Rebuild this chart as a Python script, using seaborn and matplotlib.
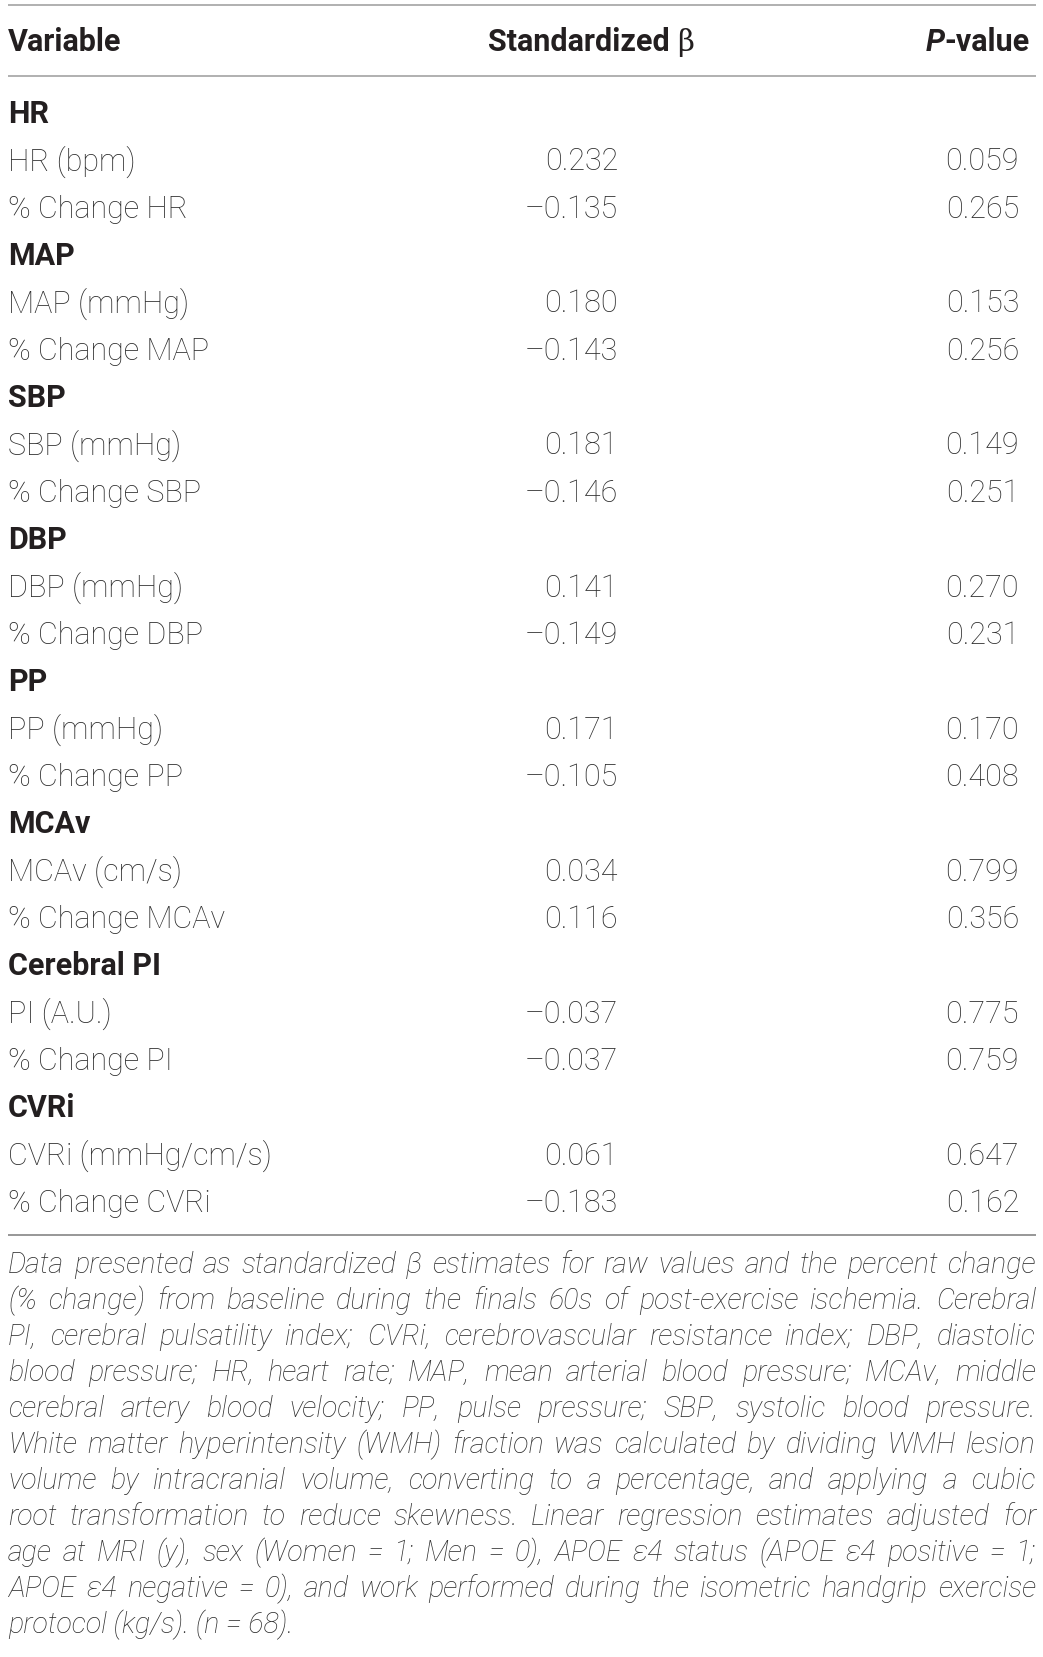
import matplotlib.pyplot as plt
import seaborn as sns

# table content
groups = ["HR", "MAP", "SBP", "DBP", "PP", "MCAv", "Cerebral PI", "CVRi"]
raw_labels = ["HR (bpm)", "MAP (mmHg)", "SBP (mmHg)", "DBP (mmHg)", "PP (mmHg)",
              "MCAv (cm/s)", "PI (A.U.)", "CVRi (mmHg/cm/s)"]
change_labels = ["% Change HR", "% Change MAP", "% Change SBP", "% Change DBP",
                 "% Change PP", "% Change MCAv", "% Change PI", "% Change CVRi"]
beta_raw = [0.232, 0.180, 0.181, 0.141, 0.171, 0.034, -0.037, 0.061]
beta_change = [-0.135, -0.143, -0.146, -0.149, -0.105, 0.116, -0.037, -0.183]
p_raw = [0.059, 0.153, 0.149, 0.270, 0.170, 0.799, 0.775, 0.647]
p_change = [0.265, 0.256, 0.251, 0.231, 0.408, 0.356, 0.759, 0.162]

footnote_lines = [
    "Data presented as standardized \u03b2 estimates for raw values and the percent change",
    "(% change) from baseline during the finals 60s of post-exercise ischemia. Cerebral",
    "PI, cerebral pulsatility index; CVRi, cerebrovascular resistance index; DBP, diastolic",
    "blood pressure; HR, heart rate; MAP, mean arterial blood pressure; MCAv, middle",
    "cerebral artery blood velocity; PP, pulse pressure; SBP, systolic blood pressure.",
    "White matter hyperintensity (WMH) fraction was calculated by dividing WMH lesion",
    "volume by intracranial volume, converting to a percentage, and applying a cubic",
    "root transformation to reduce skewness. Linear regression estimates adjusted for",
    "age at MRI (y), sex (Women = 1; Men = 0), APOE \u03b54 status (APOE \u03b54 positive = 1;",
    "APOE \u03b54 negative = 0), and work performed during the isometric handgrip exercise",
    "protocol (kg/s). (n = 68).",
]

sns.set_theme(style="white")
plt.rcParams["font.family"] = ["Roboto", "DejaVu Sans"]

fam = ["Roboto", "DejaVu Sans"]
dark = "#231f20"
body = "#2e2e2e"
fs = 22
fs_note = 20.6


def fmt(v):
    return f"{v:.3f}".replace("-", "\u2013")


fig = plt.figure(figsize=(10.43, 16.58), dpi=100)
ax = fig.add_axes([0, 0, 1, 1])
ax.set_xlim(0, 1043)
ax.set_ylim(1658, 0)
ax.axis("off")
renderer = fig.canvas.get_renderer()

x_left, x_right = 8, 1036
x_beta, x_p = 618, 1019

# rules
ax.plot([x_left, x_right], [5.5, 5.5], color="#a3a3a3", lw=1.2, solid_capstyle="butt")
ax.plot([x_left, x_right], [77, 77], color="#a3a3a3", lw=1.2, solid_capstyle="butt")
ax.plot([x_left, x_right], [1236, 1236], color="#7a7a7a", lw=1.1, solid_capstyle="butt")

# header
ax.text(x_left, 50.5, "Variable", fontsize=fs, fontweight="bold", color=dark,
        family=fam, va="baseline", ha="left")
t = ax.text(488, 50.5, "Standardized", fontsize=fs, fontweight="bold", color=dark,
            family=fam, va="baseline", ha="left")
w = t.get_window_extent(renderer).width
ax.text(488 + w + 7, 50.5, "\u03b2", fontsize=fs - 1, color=dark,
        family=["DejaVu Serif"], va="baseline", ha="left")
t = ax.text(1030, 50.5, "-value", fontsize=fs, fontweight="bold", color=dark,
            family=fam, va="baseline", ha="right")
w = t.get_window_extent(renderer).width
ax.text(1030 - w, 50.5, "P", fontsize=fs, fontweight="bold", style="italic",
        color=dark, family=fam, va="baseline", ha="right")

# body rows
step = 47.35
row = 0
for i, g in enumerate(groups):
    y = 123 + step * row
    ax.text(x_left, y, g, fontsize=fs, fontweight="bold", color=dark,
            family=fam, va="baseline")
    row += 1
    for lab, b, p in [(raw_labels[i], beta_raw[i], p_raw[i]),
                      (change_labels[i], beta_change[i], p_change[i])]:
        y = 123 + step * row
        ax.text(x_left, y, lab, fontsize=fs, fontweight="light", color=body,
                family=fam, va="baseline")
        ax.text(x_beta, y, fmt(b), fontsize=fs, fontweight="light", color=body,
                family=fam, va="baseline", ha="right")
        ax.text(x_p, y, fmt(p), fontsize=fs, fontweight="light", color=body,
                family=fam, va="baseline", ha="right")
        row += 1

# footnote, justified
note_kw = dict(fontsize=fs_note, fontweight="light", style="italic", color=body,
               family=fam, va="baseline", ha="left")
for k, line in enumerate(footnote_lines):
    y = 1273 + 36 * k
    words = line.split(" ")
    if k == len(footnote_lines) - 1:
        ax.text(x_left, y, line, **note_kw)
        continue
    widths = []
    for wd in words:
        tmp = ax.text(0, 0, wd, **note_kw)
        widths.append(tmp.get_window_extent(renderer).width)
        tmp.remove()
    gap = (x_right - x_left - sum(widths)) / (len(words) - 1)
    x = x_left
    for wd, wdw in zip(words, widths):
        ax.text(x, y, wd, **note_kw)
        x += wdw + gap

fig.savefig("out.png", dpi=100, facecolor="white")
